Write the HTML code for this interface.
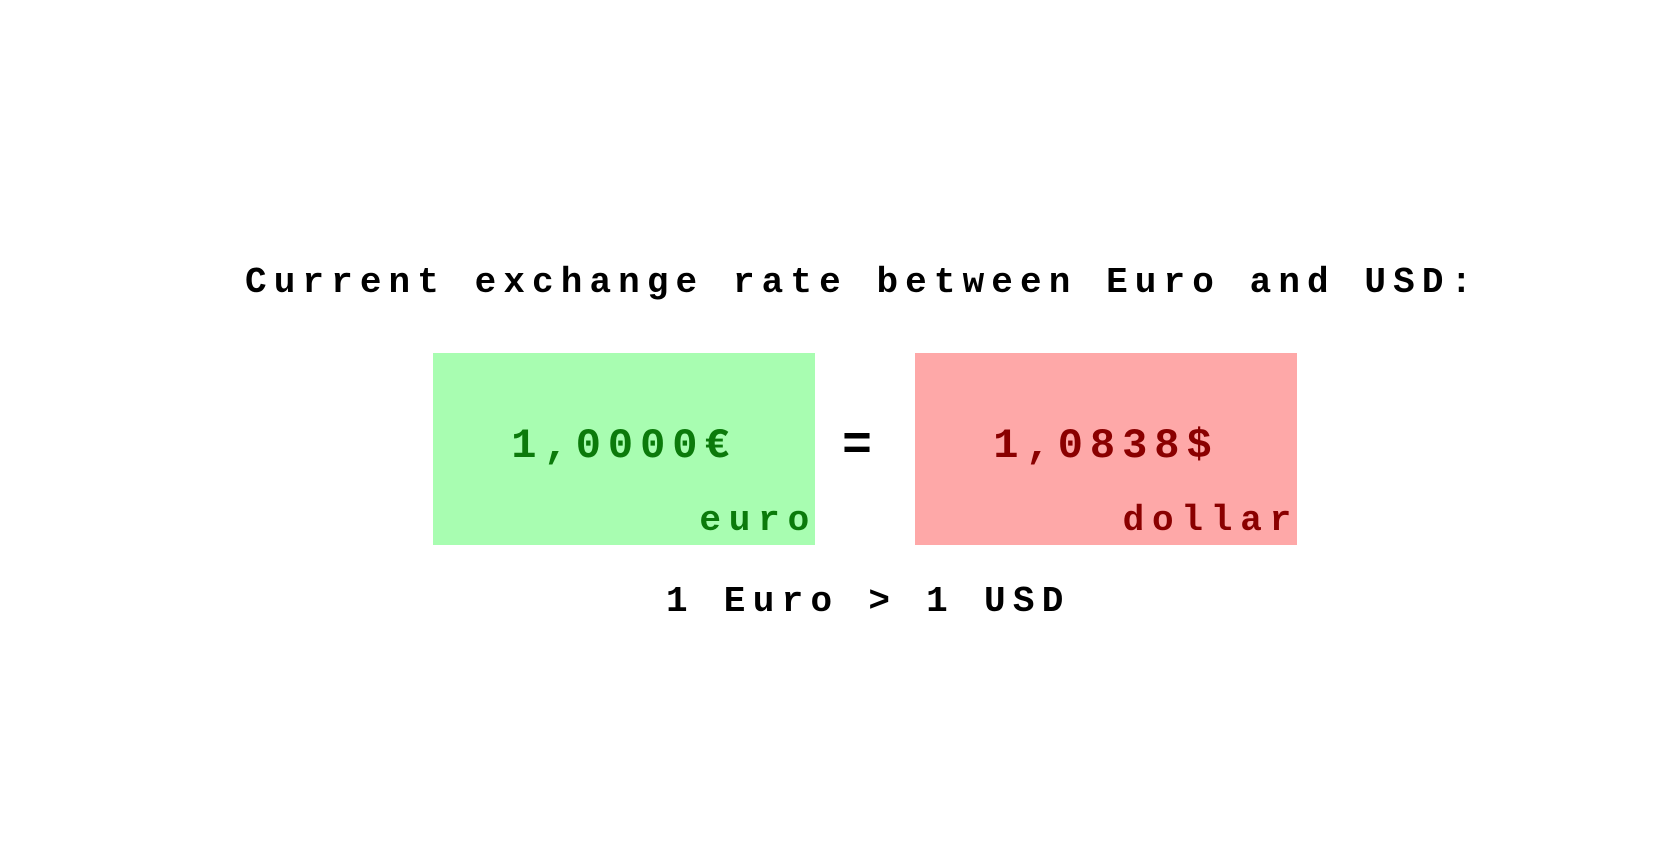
<!DOCTYPE html>
<html><head><meta charset="utf-8"><style>
html,body{margin:0;padding:0;background:#fff;width:1671px;height:859px;overflow:hidden;font-family:"Liberation Mono","DejaVu Sans Mono",monospace;font-weight:bold;}
.t{position:absolute;white-space:nowrap;line-height:1;}
#title{left:245px;top:265px;font-size:36px;letter-spacing:7.1px;color:#000;}
.box{position:absolute;top:353px;width:382px;height:192px;}
#g{left:433px;background:#a8fdb1;}
#r{left:915px;background:#fea8a8;}
.num{position:absolute;left:0;right:0;top:72px;text-align:center;font-size:42px;line-height:1;letter-spacing:7px;}
.lab{position:absolute;right:-2px;bottom:6px;font-size:36px;line-height:1;letter-spacing:7.8px;}
#eq{left:842px;top:422px;font-size:50px;}
#foot{left:666px;top:584px;font-size:36px;letter-spacing:7.3px;color:#000;}
</style></head><body>
<div class="t" id="title">Current exchange rate between Euro and USD:</div>
<div class="box" id="g">
<div class="num" style="color:#0b7a0b">1,0000€</div>
<div class="lab" style="color:#0b7a0b">euro</div>
</div>
<div class="t" id="eq">=</div>
<div class="box" id="r">
<div class="num" style="color:#8a0000">1,0838$</div>
<div class="lab" style="color:#8a0000">dollar</div>
</div>
<div class="t" id="foot">1 Euro &gt; 1 USD</div>
</body></html>
